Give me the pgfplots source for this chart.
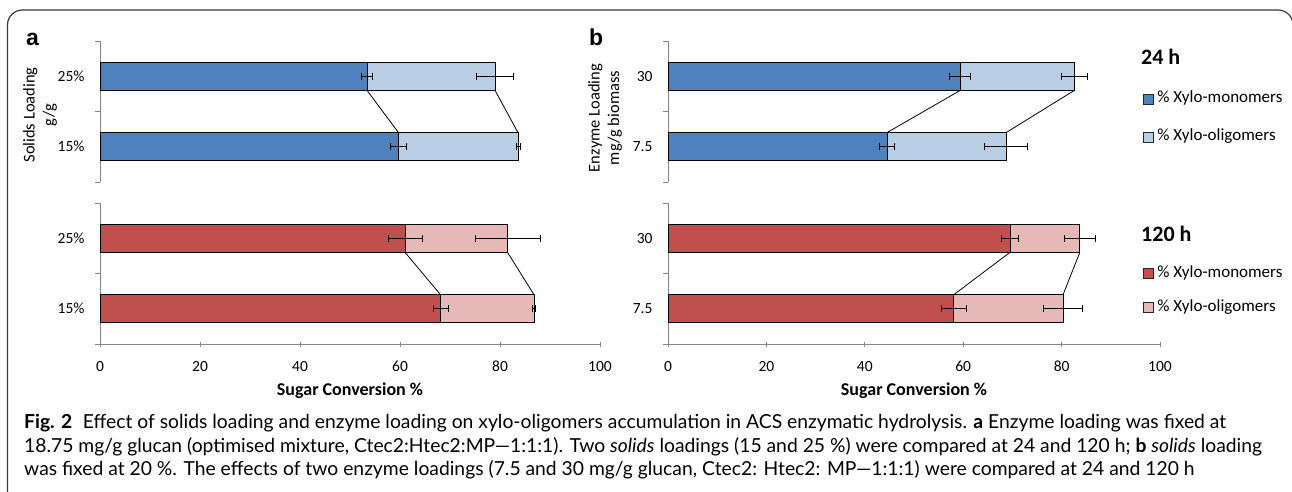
\documentclass[border=0pt]{standalone}
\usepackage{pgfplots}
\pgfplotsset{compat=1.18}
\usepackage{fontspec}
\setmainfont{Carlito}
\newfontfamily\capfont{Lato}
\newfontfamily\panelfont{Liberation Sans}
\definecolor{monoB}{HTML}{4F81BD}
\definecolor{oligoB}{HTML}{B9CDE5}
\definecolor{monoR}{HTML}{C0504D}
\definecolor{oligoR}{HTML}{E6B9B8}
\definecolor{axgray}{HTML}{868686}
\definecolor{framec}{HTML}{3A3A3A}

\pgfplotsset{
  base/.style={
    scale only axis, xmin=0, xmax=100, ymin=0.5, ymax=2.5,
    height=141pt, clip=false,
    /pgf/number format/assume math mode=true,
    axis y line=left,
    y axis line style={-, axgray, line width=1pt},
    ytick={1,2},
    minor ytick={0.5,1.5,2.5},
    major y tick style={draw=none},
    minor y tick style={axgray, line width=1pt},
    minor tick length=5pt,
    major tick length=5pt,
    tick align=outside,
    tick label style={font=\fontsize{15.5}{18}\selectfont},
    yticklabel style={xshift=-7pt},
    xticklabel style={yshift=-11pt},
    legend image code/.code={\draw[##1, line width=0.8pt] (0pt,-5pt) rectangle (10pt,5pt);},
    legend cell align=left,
    legend style={draw=none, fill=none, inner sep=0pt, anchor=west,
      font=\fontsize{17}{20}\selectfont,
      nodes={inner sep=0pt, text height=12pt, text depth=4pt},
      /tikz/every odd column/.append style={column sep=3.5pt}},
  },
  top/.style={base, axis x line=none, xtick=\empty},
  bottom/.style={base, axis x line=bottom, x axis line style={-, axgray, line width=1pt},
    xtick={0,20,40,60,80,100}, x tick style={axgray, line width=1pt}},
  mbar/.style={xbar, bar width=28pt, bar shift=0pt, draw=black, line width=0.8pt,
    forget plot,
    error bars/x dir=both, error bars/x explicit,
    error bars/error bar style={black, line width=0.9pt},
    error bars/error mark options={rotate=90, black, mark size=3.5pt, line width=0.9pt}},
  link/.style={black, line width=0.8pt, mark=none, forget plot},
}

\begin{document}
\begin{tikzpicture}
\useasboundingbox (0,0) rectangle (1292pt,-492pt);
\fill[white] (0,0) rectangle (1292pt,-492pt);
\draw[framec, line width=1.2pt, rounded corners=15pt] (7.5pt,-520pt) -- (7.5pt,-10pt) -- (1293pt,-10pt) -- (1293pt,-520pt);

% ---------- panel a, 24 h ----------
\begin{axis}[top, width=500pt, at={(100pt,-182pt)}, anchor=south west,
  yticklabels={15\%,25\%}]
\addplot[mbar, fill=oligoB] coordinates {(79.0,2) +- (3.7,0) (83.6,1) +- (0.4,0)};
\addplot[mbar, fill=monoB] coordinates {(53.4,2) +- (1.1,0) (59.7,1) +- (1.6,0)};
\addplot[link] coordinates {(53.4,1.8) (59.7,1.2)};
\addplot[link] coordinates {(79.0,1.8) (83.6,1.2)};
\end{axis}

% ---------- panel a, 120 h ----------
\begin{axis}[bottom, width=500pt, at={(100pt,-344pt)}, anchor=south west,
  yticklabels={15\%,25\%}]
\addplot[mbar, fill=oligoR] coordinates {(81.5,2) +- (6.5,0) (86.8,1) +- (0.3,0)};
\addplot[mbar, fill=monoR] coordinates {(61.0,2) +- (3.4,0) (68.1,1) +- (1.5,0)};
\addplot[link] coordinates {(61.0,1.8) (68.1,1.2)};
\addplot[link] coordinates {(81.5,1.8) (86.8,1.2)};
\end{axis}

% ---------- panel b, 24 h ----------
\begin{axis}[top, width=492pt, at={(668pt,-182pt)}, anchor=south west,
  yticklabels={7.5,30},
  legend style={at={(0.9654,0.454)}, row sep=22pt}]
\addplot[mbar, fill=oligoB] coordinates {(82.6,2) +- (2.7,0) (68.7,1) +- (4.3,0)};
\addplot[mbar, fill=monoB] coordinates {(59.4,2) +- (2.1,0) (44.5,1) +- (1.6,0)};
\addplot[link] coordinates {(59.4,1.8) (44.5,1.2)};
\addplot[link] coordinates {(82.6,1.8) (68.7,1.2)};
\addlegendimage{fill=monoB, draw=black!85}
\addlegendentry{\% Xylo-monomers}
\addlegendimage{fill=oligoB, draw=black!85}
\addlegendentry{\% Xylo-oligomers}
\end{axis}

% ---------- panel b, 120 h ----------
\begin{axis}[bottom, width=492pt, at={(668pt,-344pt)}, anchor=south west,
  yticklabels={7.5,30},
  legend style={at={(0.9654,0.383)}, row sep=18pt}]
\addplot[mbar, fill=oligoR] coordinates {(83.7,2) +- (3.2,0) (80.3,1) +- (4.0,0)};
\addplot[mbar, fill=monoR] coordinates {(69.5,2) +- (1.7,0) (58.1,1) +- (2.6,0)};
\addplot[link] coordinates {(69.5,1.8) (58.1,1.2)};
\addplot[link] coordinates {(83.7,1.8) (80.3,1.2)};
\addlegendimage{fill=monoR, draw=black!85}
\addlegendentry{\% Xylo-monomers}
\addlegendimage{fill=oligoR, draw=black!85}
\addlegendentry{\% Xylo-oligomers}
\end{axis}

% ---------- texts ----------
\node[anchor=base west, inner sep=0pt, font=\panelfont\bfseries\fontsize{23}{27}\selectfont] at (26pt,-46pt) {a};
\node[anchor=base west, inner sep=0pt, font=\panelfont\bfseries\fontsize{23}{27}\selectfont] at (589pt,-46pt) {b};
\node[rotate=90, align=center, font=\fontsize{16.5}{19.5}\selectfont] at (40pt,-115pt) {Solids Loading\\g/g};
\node[rotate=90, align=center, font=\fontsize{16.5}{19.5}\selectfont] at (605pt,-118pt) {Enzyme Loading\\mg/g biomass};
\node[anchor=base, font=\bfseries\fontsize{18}{21}\selectfont] at (350pt,-395pt) {Sugar Conversion \%};
\node[anchor=base, font=\bfseries\fontsize{18}{21}\selectfont] at (914pt,-395pt) {Sugar Conversion \%};
\node[anchor=base west, inner sep=0pt, font=\bfseries\fontsize{22}{26}\selectfont] at (1141pt,-65pt) {24 h};
\node[anchor=base west, inner sep=0pt, font=\bfseries\fontsize{22}{26}\selectfont] at (1141pt,-241pt) {120 h};

\begin{scope}[every node/.style={anchor=base west, inner sep=0pt, font=\capfont\fontsize{19.3}{23}\selectfont}]
\node at (24pt,-428pt) {\textbf{Fig. 2}\hspace{0.55em}Effect of solids loading and enzyme loading on xylo-oligomers accumulation in ACS enzymatic hydrolysis. \textbf{a} Enzyme loading was fixed at};
\node at (24pt,-452pt) {18.75 mg/g glucan (optimised mixture, Ctec2:Htec2:MP—1:1:1). Two \textit{solids} loadings (15 and 25~\%) were compared at 24 and 120 h; \textbf{b} \textit{solids} loading};
\node at (24pt,-475pt) {was fixed at 20~\%. The effects of two enzyme loadings (7.5 and 30 mg/g glucan, Ctec2: Htec2: MP—1:1:1) were compared at 24 and 120 h};
\end{scope}
\end{tikzpicture}
\end{document}
